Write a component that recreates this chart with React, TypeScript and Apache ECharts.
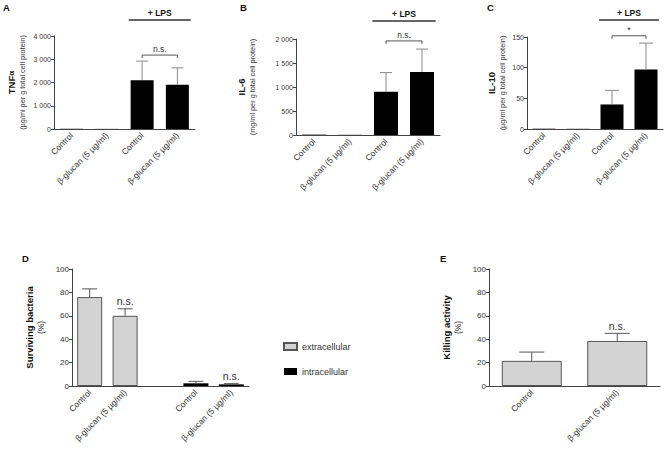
import React, { useEffect, useRef } from 'react';
import * as echarts from 'echarts';

// ---------- data ----------
const catsLPS = ['Control', 'β-glucan (5 µg/ml)', 'Control', 'β-glucan (5 µg/ml)'];
const tnfValues = [10, 5, 2100, 1900];
const tnfErrors = [0, 0, 820, 730];
const il6Values = [8, 4, 900, 1310];
const il6Errors = [0, 0, 400, 480];
const il10Values = [0.5, 0.3, 40, 97];
const il10Errors = [0, 0, 23, 43];
const lpsRange = [2, 3];
const bracketA = [2, 3, 3180];
const bracketB = [2, 3, 1960];
const bracketC = [2, 3, 152];
const bracketTexts = ['n.s.', 'n.s.', '*'];

const catsD = ['Control', 'β-glucan (5 µg/ml)', '', 'Control', 'β-glucan (5 µg/ml)'];
const extracellular: (number | string)[] = [76, 60, '-', '-', '-'];
const extracellularErr = [7, 6, 0, 0, 0];
const intracellular: (number | string)[] = ['-', '-', '-', 2.3, 1.4];
const intracellularErr = [0, 0, 0, 1.7, 0.6];
const sigD = ['', 'n.s.', '', '', 'n.s.'];

const catsE = ['Control', 'β-glucan (5 µg/ml)'];
const killing = [21.5, 38.5];
const killingErr = [7.5, 6.5];
const sigE = ['', 'n.s.'];

const FONT = '"Liberation Sans", Arial, Helvetica, sans-serif';
const AXIS = '#444';
const TXT = '#333';

function fmtThousands(v: number) {
  if (v >= 1000) {
    const k = Math.floor(v / 1000);
    const r = String(v % 1000).padStart(3, '0');
    return k + ' ' + r;
  }
  return String(v);
}

function errSeries(idx: number, values: (number | string)[], errs: number[], capW: number, color: string, labels?: string[], labelSize?: number) {
  const data: number[][] = [];
  const idxs: number[] = [];
  values.forEach((v, i) => {
    if (typeof v === 'number' && (errs[i] > 0 || (labels && labels[i]))) {
      data.push([i, v, v + errs[i]]);
      idxs.push(i);
    }
  });
  return {
    type: 'custom',
    xAxisIndex: idx,
    yAxisIndex: idx,
    clip: false,
    z: 5,
    silent: true,
    encode: { x: 0, y: [1, 2] },
    data,
    renderItem: (params: any, api: any) => {
      const x = api.value(0);
      const p0 = api.coord([x, api.value(1)]);
      const p1 = api.coord([x, api.value(2)]);
      const children: any[] = [];
      if (p0[1] - p1[1] > 0.5) {
        children.push({ type: 'line', shape: { x1: p0[0], y1: p0[1], x2: p1[0], y2: p1[1] }, style: { stroke: color, lineWidth: 1 } });
        children.push({ type: 'line', shape: { x1: p1[0] - capW / 2, y1: p1[1], x2: p1[0] + capW / 2, y2: p1[1] }, style: { stroke: color, lineWidth: 1 } });
      }
      const lab = labels ? labels[idxs[params.dataIndex]] : '';
      if (lab) {
        children.push({
          type: 'text', x: p1[0], y: p1[1] - 2,
          style: { text: lab, align: 'center', verticalAlign: 'bottom', fontSize: labelSize || 10, fontFamily: FONT, fill: TXT },
        });
      }
      return { type: 'group', children };
    },
  };
}

function bracketSeries(idx: number, br: number[], text: string, fontSize: number) {
  return {
    type: 'custom',
    xAxisIndex: idx,
    yAxisIndex: idx,
    clip: false,
    silent: true,
    z: 6,
    encode: { x: [0, 1], y: 2 },
    data: [br],
    renderItem: (params: any, api: any) => {
      const a = api.coord([api.value(0), api.value(2)]);
      const b = api.coord([api.value(1), api.value(2)]);
      return {
        type: 'group',
        children: [
          { type: 'polyline', shape: { points: [[a[0], a[1] + 3], [a[0], a[1]], [b[0], b[1]], [b[0], b[1] + 3]] }, style: { stroke: '#555', lineWidth: 1, fill: 'none' } },
          { type: 'text', x: (a[0] + b[0]) / 2, y: a[1] - 1.5, style: { text, align: 'center', verticalAlign: 'bottom', fontSize, fontFamily: FONT, fill: TXT } },
        ],
      };
    },
  };
}

function lpsSeries(idx: number, offset: number) {
  return {
    type: 'custom',
    xAxisIndex: idx,
    yAxisIndex: idx,
    clip: false,
    silent: true,
    encode: { x: [0, 1], y: 2 },
    data: [[lpsRange[0], lpsRange[1], 0]],
    renderItem: (params: any, api: any) => {
      const cs = params.coordSys;
      const bw = api.size([1, 0])[0];
      const a = api.coord([api.value(0), 0])[0] - bw * 0.38;
      const b = api.coord([api.value(1), 0])[0] + bw * 0.38;
      const y = cs.y - offset;
      return {
        type: 'group',
        children: [
          { type: 'line', shape: { x1: a, y1: y, x2: b, y2: y }, style: { stroke: '#333', lineWidth: 1.3 } },
          { type: 'text', x: (a + b) / 2, y: y - 3, style: { text: '+ LPS', align: 'center', verticalAlign: 'bottom', fontSize: 8.5, fontWeight: 'bold', fontFamily: FONT, fill: '#111' } },
        ],
      };
    },
  };
}

function xAxisCfg(idx: number, cats: string[]) {
  return {
    type: 'category',
    gridIndex: idx,
    data: cats,
    axisLine: { lineStyle: { color: AXIS, width: 1 } },
    axisTick: { alignWithLabel: true, length: 3, lineStyle: { color: AXIS }, interval: (i: number, v: string) => v !== '' },
    axisLabel: { rotate: 45, interval: 0, fontSize: 8.5, color: TXT, margin: 5, fontFamily: FONT },
  };
}

function yAxisCfg(idx: number, max: number, interval: number, name: string, nameGap: number, labelSize: number, fmt?: (v: number) => string) {
  return {
    type: 'value',
    gridIndex: idx,
    min: 0,
    max,
    interval,
    splitLine: { show: false },
    axisLine: { show: true, lineStyle: { color: AXIS, width: 1 } },
    axisTick: { show: true, length: 3, lineStyle: { color: AXIS } },
    axisLabel: { fontSize: labelSize, color: TXT, margin: 3, fontFamily: FONT, formatter: fmt },
    name,
    nameLocation: 'middle',
    nameRotate: 90,
    nameGap,
    nameTextStyle: {
      fontFamily: FONT,
      rich: {
        t: { fontWeight: 'bold', fontSize: 9.5, color: '#111', lineHeight: 11, fontFamily: FONT },
        ts: { fontWeight: 'bold', fontSize: 8, color: '#111', lineHeight: 11, fontFamily: FONT },
        s: { fontSize: 7.3, color: TXT, lineHeight: 10, fontFamily: FONT },
        p: { fontSize: 8.5, color: TXT, lineHeight: 11, fontFamily: FONT },
      },
    },
  };
}

function barSeries(idx: number, data: (number | string)[], width: number, color: string, border?: string, name?: string, stack?: string) {
  return {
    type: 'bar',
    name,
    stack,
    xAxisIndex: idx,
    yAxisIndex: idx,
    data,
    barWidth: width,
    silent: true,
    itemStyle: { color, borderColor: border || color, borderWidth: border ? 1 : 0 },
  };
}

export default function App() {
  const ref = useRef<HTMLDivElement>(null);
  useEffect(() => {
    if (!ref.current) return;
    const chart = echarts.init(ref.current, undefined, { renderer: 'svg' });
    const panelLetter = (t: string, x: number, y: number) => ({
      type: 'text', x, y, style: { text: t, fontSize: 9.5, fontWeight: 'bold', fontFamily: FONT, fill: '#111' },
    });
    chart.setOption({
      animation: false,
      textStyle: { fontFamily: FONT },
      grid: [
        { left: 54, top: 36, width: 141, height: 93 },
        { left: 296, top: 39, width: 144, height: 96 },
        { left: 527, top: 37, width: 136, height: 92 },
        { left: 72, top: 269, width: 177, height: 117 },
        { left: 489, top: 269, width: 171, height: 117 },
      ],
      xAxis: [
        xAxisCfg(0, catsLPS),
        xAxisCfg(1, catsLPS),
        xAxisCfg(2, catsLPS),
        xAxisCfg(3, catsD),
        xAxisCfg(4, catsE),
      ],
      yAxis: [
        yAxisCfg(0, 4000, 1000, '{t|TNF}{ts|α}\n{s|(µg/ml per g total cell protein)}', 27, 7, fmtThousands),
        yAxisCfg(1, 2000, 500, '{t|IL-6}\n{s|(mg/ml per g total cell protein)}', 39, 7, fmtThousands),
        yAxisCfg(2, 150, 50, '{t|IL-10}\n{s|(µg/ml per g total cell protein)}', 20, 7),
        yAxisCfg(3, 100, 20, '{t|Surviving bacteria}\n{p|(%)}', 26, 8),
        yAxisCfg(4, 100, 20, '{t|Killing activity}\n{p|(%)}', 26, 8),
      ],
      legend: {
        data: ['extracellular', 'intracellular'],
        orient: 'vertical',
        left: 278,
        top: 337,
        itemWidth: 13,
        itemHeight: 7,
        itemGap: 16,
        icon: 'rect',
        selectedMode: false,
        textStyle: { fontSize: 9, color: TXT, fontFamily: FONT },
      },
      graphic: [
        panelLetter('A', 3, 2),
        panelLetter('B', 240, 2),
        panelLetter('C', 487, 2),
        panelLetter('D', 22, 253),
        panelLetter('E', 440, 253),
      ],
      series: [
        barSeries(0, tnfValues, 23, '#000'),
        errSeries(0, tnfValues, tnfErrors, 12, '#888'),
        bracketSeries(0, bracketA, bracketTexts[0], 8.5),
        lpsSeries(0, 16),
        barSeries(1, il6Values, 24, '#000'),
        errSeries(1, il6Values, il6Errors, 12, '#888'),
        bracketSeries(1, bracketB, bracketTexts[1], 8.5),
        lpsSeries(1, 18),
        barSeries(2, il10Values, 23, '#000'),
        errSeries(2, il10Values, il10Errors, 14, '#888'),
        bracketSeries(2, bracketC, bracketTexts[2], 9),
        lpsSeries(2, 17),
        barSeries(3, extracellular, 25, '#d3d3d3', '#555', 'extracellular', 'D'),
        barSeries(3, intracellular, 25, '#000', undefined, 'intracellular', 'D'),
        errSeries(3, extracellular, extracellularErr, 15, '#555', sigD, 10.5),
        errSeries(3, intracellular, intracellularErr, 15, '#555', sigD, 10.5),
        barSeries(4, killing, 60, '#d3d3d3', '#555'),
        errSeries(4, killing, killingErr, 25, '#555', sigE, 10.5),
      ],
    });
    return () => chart.dispose();
  }, []);
  return <div ref={ref} style={{ position: 'fixed', left: 0, top: 0, width: 669, height: 452, background: '#fff' }} />;
}
